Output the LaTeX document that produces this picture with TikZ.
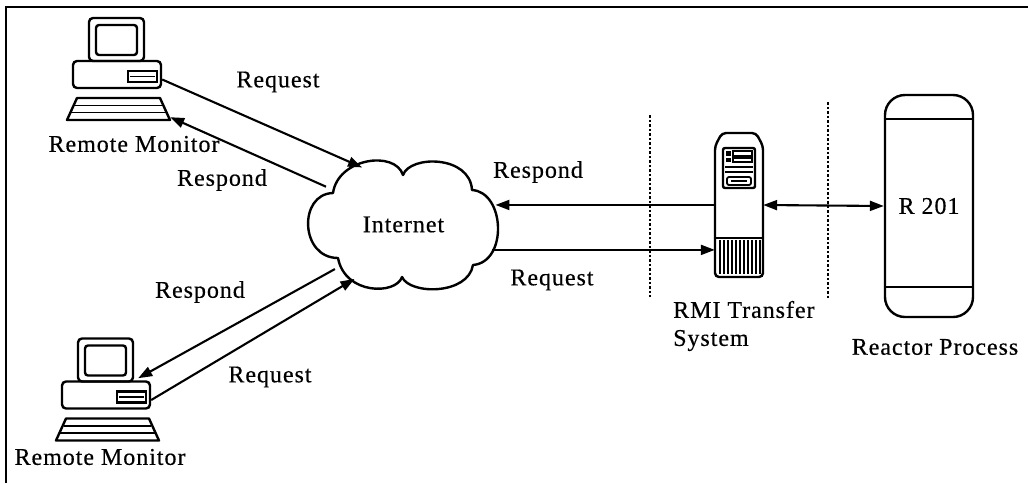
\documentclass[tikz,border=0pt]{standalone}
\usepackage{fontspec}
\setmainfont{Liberation Serif}[LetterSpace=4,FakeBold=0.4]
\usetikzlibrary{arrows.meta,shapes.geometric}

\tikzset{
  outline/.style={line width=2.4pt},
  tip/.tip={Triangle[length=14pt,width=10pt]},
  link/.style={line width=2.1pt, -tip},
  sep/.style={line width=1.4pt, dash pattern=on 2.5pt off 2pt},
  label/.style={font=\fontsize{24}{28}\selectfont, inner sep=0pt},
  % desktop computer: base unit, monitor and keyboard
  workstation/.pic={
    \node[draw, outline, rounded corners=4pt, minimum width=88pt, minimum height=27pt, inner sep=0pt] (-base) at (0,0) {};
    \node[draw, outline, rounded corners=4pt, minimum width=55pt, minimum height=43pt, inner sep=0pt] (-mon) at (-0.5,-35) {};
    \draw[outline, rounded corners=3pt] (-21,-49.5) rectangle (20,-19.5);
    \draw[outline] (11,-3.5) rectangle (40,7.5);
    \draw[line width=1.2pt] (13,2) -- (38,2);
    \node[minimum width=103pt, minimum height=22pt, inner sep=0pt] (-kbd) at (1.5,34.5) {};
    \draw[outline, line join=round] (-50,45.5) -- (-40,23.5) -- (43,23.5) -- (53,45.5) -- cycle;
    \draw[line width=1.5pt] (-42,31) -- (45,31) (-46,38) -- (49,38);
  }
}

\begin{document}
\begin{tikzpicture}[x=1pt,y=-1pt]
\useasboundingbox (0,0) rectangle (1028,483);
\fill[white] (0,0) rectangle (1028,483);

% frame
\draw[line width=1.8pt] (6,483) -- (6,7) -- (1028,7);

% remote monitors
\pic (pcA) at (117,74.5) {workstation};
\pic (pcB) at (106,395) {workstation};
\node[label] (nameA) at (134,144) {Remote Monitor};
\node[label] (nameB) at (100,457) {Remote Monitor};

% internet cloud
\draw[outline, line join=round, fill=white]
  (333,193) .. controls (338,158) and (395,150) .. (403,175)
  .. controls (410,155) and (470,155) .. (472,190)
  .. controls (505,192) and (508,262) .. (473,265)
  .. controls (468,295) and (410,295) .. (402,277)
  .. controls (396,295) and (345,295) .. (338,258)
  .. controls (300,258) and (298,194) .. (333,193) -- cycle;
\node[label, ellipse, minimum width=193pt, minimum height=126pt] (internet) at (403.5,224.5) {Internet};

% separators
\draw[sep] (650,115) -- (650,297);
\draw[sep] (828,102) -- (828,298);

% RMI transfer server
\node[minimum width=48pt, minimum height=144pt, inner sep=0pt] (rmi) at (739,205) {};
\draw[outline, rounded corners=4pt] (715,146) -- (722,133) -- (756,133) -- (763,146) -- (763,277) -- (715,277) -- cycle;
\draw[outline] (715,238) -- (763,238);
\foreach \x in {719.5,723.5,...,759.5} \draw[line width=2pt] (\x,240) -- (\x,274);
\draw[outline, rounded corners=2pt] (723,148) rectangle (755,188);
\fill (726,151) rectangle (731,156);
\fill (726,158) rectangle (731,162);
\draw[line width=1.4pt] (733,151) rectangle (752,156);
\draw[line width=1.4pt] (733,158) rectangle (752,162);
\draw[line width=1.4pt] (725,167) -- (753,167);
\draw[line width=1.4pt] (725,172) -- (753,172);
\draw[line width=1.8pt, rounded corners=2pt] (727,177) rectangle (751,185);
\draw[line width=1.4pt] (731,181) -- (747,181);
\node[label, anchor=west, align=left] (rminame) at (673,326) {RMI Transfer\\System};

% reactor
\node[label, draw, outline, rounded corners=20pt, minimum width=88pt, minimum height=222pt] (reactor) at (929,206) {R 201};
\draw[outline] (reactor.west |- 0,119) -- (reactor.east |- 0,119);
\draw[outline] (reactor.west |- 0,287) -- (reactor.east |- 0,287);
\node[label] (reactorname) at (935,347) {Reactor Process};

% connectors
\draw[link] ([yshift=-5pt]pcA-base.east) -- (internet.126.5);
\draw[link] (internet.154.6) -- ([yshift=3pt]pcA-kbd.south east);
\draw[link] (internet.213.8) -- ([shift={(4pt,4.5pt)}]pcB-mon.south east);
\draw[link] ([yshift=-5pt]pcB-base.east) -- (internet.228.8);
\draw[link] (internet.12 -| rmi.west) -- (internet.12);
\draw[link] (internet.-16) -- (internet.-16 -| rmi.west);
\draw[line width=2.1pt, tip-tip] (rmi.east) -- (reactor.west);

% connector labels
\node[label] (reqA) at (278,82) {Request};
\node[label] (resA) at (222,180) {Respond};
\node[label] (resB) at (200,292) {Respond};
\node[label] (reqB) at (270,377) {Request};
\node[label] (resC) at (538,172) {Respond};
\node[label] (reqC) at (552,280) {Request};
\end{tikzpicture}
\end{document}
